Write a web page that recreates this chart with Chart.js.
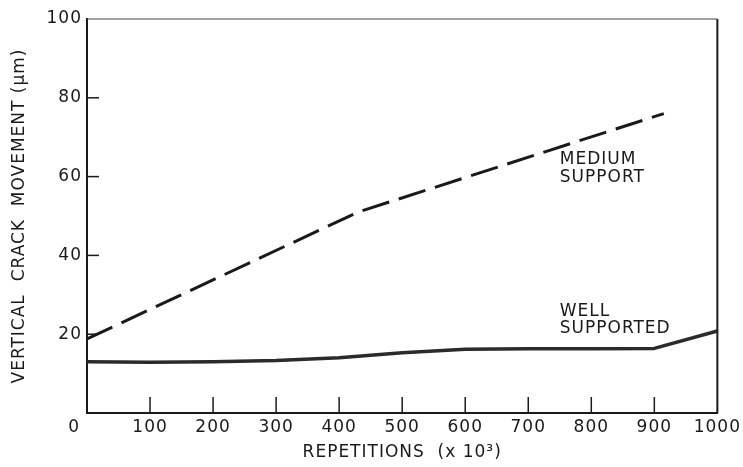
<!DOCTYPE html>
<html>
<head>
<meta charset="utf-8">
<script src="https://cdn.jsdelivr.net/npm/chart.js@4.4.1/dist/chart.umd.min.js"></script>
<style>
  html, body { margin: 0; padding: 0; background: #fff; }
  #wrap { width: 743px; height: 467px; }
</style>
</head>
<body>
<div id="wrap"><canvas id="crackChart" width="743" height="467"></canvas></div>
<script>
// repetitions (x 10^3) on the x axis
var repetitions = [0, 100, 200, 300, 400, 500, 600, 700, 800, 900, 1000];
// well supported slab, crack movement in micrometres
var wellSupported = [13, 12.9, 13, 13.3, 14, 15.3, 16.2, 16.3, 16.3, 16.4, 20.8];
// medium support slab (dashed line), read at its break points
var mediumReps = [0, 430, 915];
var mediumSupport = [18.8, 51, 76];

var xTicks = [100, 200, 300, 400, 500, 600, 700, 800, 900];
var yTicks = [20, 40, 60, 80];

// curve labels, placed in data units
var labelText = [['MEDIUM', 'SUPPORT'], ['WELL', 'SUPPORTED']];
var labelX = [750, 750];
var labelY = [[64.2, 59.7], [25.7, 21.4]];

var ink = '#1a1a1a';

/**
 * Draws the box, the inward tick marks and the curve labels
 */
var framePlugin = {
    id: 'frame',
    beforeDraw: function(chart) {
        chart.ctx.letterSpacing = '1px';
    },
    afterDatasetsDraw: function(chart) {
        var ctx = chart.ctx;
        var a = chart.chartArea;
        var xs = chart.scales.x;
        var ys = chart.scales.y;

        ctx.save();
        ctx.strokeStyle = ink;
        // right side
        ctx.lineWidth = 2;
        ctx.beginPath();
        ctx.moveTo(a.right, a.top);
        ctx.lineTo(a.right, a.bottom);
        ctx.stroke();
        // top side, thinner
        ctx.lineWidth = 1;
        ctx.strokeStyle = '#444';
        ctx.beginPath();
        ctx.moveTo(a.left, a.top);
        ctx.lineTo(a.right, a.top);
        ctx.stroke();

        // tick marks pointing into the plot
        ctx.strokeStyle = ink;
        ctx.lineWidth = 1.5;
        xTicks.forEach(function(v) {
            var px = xs.getPixelForValue(v);
            ctx.beginPath();
            ctx.moveTo(px, a.bottom);
            ctx.lineTo(px, a.bottom - 16);
            ctx.stroke();
        });
        yTicks.forEach(function(v) {
            var py = ys.getPixelForValue(v);
            ctx.beginPath();
            ctx.moveTo(a.left, py);
            ctx.lineTo(a.left + 12, py);
            ctx.stroke();
        });

        // labels next to the curves
        ctx.fillStyle = ink;
        ctx.font = '17px "DejaVu Sans"';
        ctx.letterSpacing = '1px';
        ctx.textAlign = 'left';
        ctx.textBaseline = 'middle';
        for (var i = 0; i < labelText.length; i++) {
            for (var j = 0; j < labelText[i].length; j++) {
                ctx.fillText(labelText[i][j], xs.getPixelForValue(labelX[i]), ys.getPixelForValue(labelY[i][j]));
            }
        }
        ctx.restore();
    }
};

function makeChart() {
    var wellData = repetitions.map(function(r, i) { return {x: r, y: wellSupported[i]}; });
    var mediumData = mediumReps.map(function(r, i) { return {x: r, y: mediumSupport[i]}; });

    Chart.defaults.font.family = '"DejaVu Sans"';
    Chart.defaults.color = ink;

    var ctx = document.getElementById('crackChart').getContext('2d');
    new Chart(ctx, {
        type: 'line',
        data: {
            datasets: [{
                label: 'Medium support',
                data: mediumData,
                borderColor: ink,
                borderWidth: 3,
                borderDash: [28, 10],
                borderCapStyle: 'butt',
                pointRadius: 0,
                tension: 0,
                fill: false
            }, {
                label: 'Well supported',
                data: wellData,
                borderColor: '#2b2b2b',
                borderWidth: 3.5,
                borderJoinStyle: 'round',
                pointRadius: 0,
                tension: 0,
                fill: false
            }]
        },
        options: {
            responsive: false,
            animation: false,
            devicePixelRatio: 1,
            layout: { padding: { left: 0, right: 21, top: 19, bottom: 0 } },
            plugins: {
                legend: { display: false },
                tooltip: { enabled: false }
            },
            scales: {
                x: {
                    type: 'linear',
                    min: 0,
                    max: 1000,
                    afterFit: function(scale) { scale.height = 54; },
                    grid: { display: false, drawTicks: false },
                    border: { display: true, color: ink, width: 2 },
                    ticks: {
                        stepSize: 100,
                        padding: 4,
                        maxRotation: 0,
                        font: { size: 17 },
                        color: ink,
                        callback: function(v) { return v === 0 ? '0    ' : String(v); }
                    },
                    title: {
                        display: true,
                        text: 'REPETITIONS  (x 10\u00B3)',
                        font: { size: 17 },
                        color: ink,
                        padding: { top: 0, bottom: 4 }
                    }
                },
                y: {
                    min: 0,
                    max: 100,
                    afterFit: function(scale) { scale.width = 87; },
                    grid: { display: false, drawTicks: false },
                    border: { display: true, color: ink, width: 2 },
                    ticks: {
                        stepSize: 20,
                        padding: 5,
                        font: { size: 17 },
                        color: ink,
                        callback: function(v) { return v === 0 ? '' : String(v); }
                    },
                    title: {
                        display: true,
                        text: 'VERTICAL  CRACK  MOVEMENT (\u03BCm)',
                        font: { size: 17 },
                        color: ink,
                        padding: { top: 9, bottom: 0 }
                    }
                }
            }
        },
        plugins: [framePlugin]
    });
}

makeChart();
</script>
</body>
</html>
